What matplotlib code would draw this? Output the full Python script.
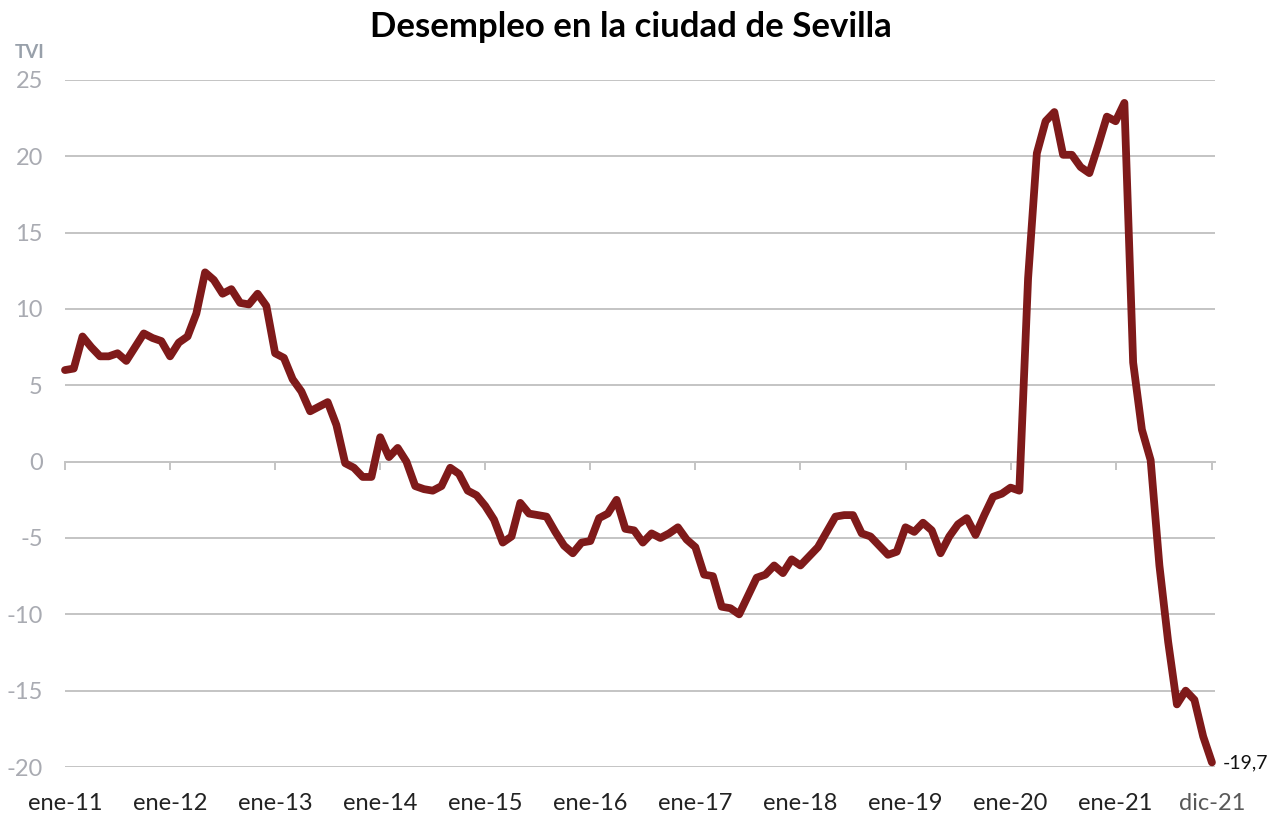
import matplotlib
matplotlib.use("Agg")
from matplotlib import pyplot as plt
import numpy as np

# Tasa de variacion interanual del paro registrado, ene-2011 .. dic-2021 (mensual)
tvi_2011 = [6.0, 6.1, 8.2, 7.5, 6.9, 6.9, 7.1, 6.6, 7.5, 8.4, 8.1, 7.9]
tvi_2012 = [6.9, 7.8, 8.2, 9.7, 12.4, 11.9, 11.0, 11.3, 10.4, 10.3, 11.0, 10.2]
tvi_2013 = [7.1, 6.8, 5.4, 4.6, 3.3, 3.6, 3.9, 2.4, -0.1, -0.4, -1.0, -1.0]
tvi_2014 = [1.6, 0.3, 0.9, 0.0, -1.6, -1.8, -1.9, -1.6, -0.4, -0.8, -1.9, -2.2]
tvi_2015 = [-2.9, -3.8, -5.3, -4.9, -2.7, -3.4, -3.5, -3.6, -4.6, -5.5, -6.0, -5.3]
tvi_2016 = [-5.2, -3.7, -3.4, -2.5, -4.4, -4.5, -5.3, -4.7, -5.0, -4.7, -4.3, -5.1]
tvi_2017 = [-5.6, -7.4, -7.5, -9.5, -9.6, -10.0, -8.8, -7.6, -7.4, -6.8, -7.3, -6.4]
tvi_2018 = [-6.8, -6.2, -5.6, -4.6, -3.6, -3.5, -3.5, -4.7, -4.9, -5.5, -6.1, -5.9]
tvi_2019 = [-4.3, -4.6, -4.0, -4.5, -6.0, -4.9, -4.1, -3.7, -4.8, -3.5, -2.3, -2.1]
tvi_2020 = [-1.7, -1.9, 12.0, 20.2, 22.3, 22.9, 20.1, 20.1, 19.3, 18.9, 20.7, 22.6]
tvi_2021 = [22.3, 23.5, 6.5, 2.1, 0.1, -6.8, -11.8, -15.9, -15.0, -15.6, -18.0, -19.7]

tick_labels = ['ene-11', 'ene-12', 'ene-13', 'ene-14', 'ene-15', 'ene-16',
               'ene-17', 'ene-18', 'ene-19', 'ene-20', 'ene-21', 'dic-21']
y_ticks = [-20, -15, -10, -5, 0, 5, 10, 15, 20, 25]

values = np.array(tvi_2011 + tvi_2012 + tvi_2013 + tvi_2014 + tvi_2015 + tvi_2016
                  + tvi_2017 + tvi_2018 + tvi_2019 + tvi_2020 + tvi_2021)
months = np.arange(len(values))

plt.rcParams['font.family'] = ['Lato', 'DejaVu Sans']
plt.rcParams['axes.unicode_minus'] = False

fig = plt.figure(figsize=(12.83, 8.18), dpi=100)
ax = fig.add_axes([65 / 1283, 51 / 818, 1150 / 1283, 687 / 818])

grid_col = '#C4C4C4'
ax.plot(months, values, color='#7F1A1A', lw=5.6, solid_joinstyle='round',
        solid_capstyle='round', zorder=3, clip_on=False)

ax.set_ylim(-20, 25)
ax.set_xlim(0, len(values) - 1 + 0.35)
ax.set_yticks(y_ticks)
ax.yaxis.grid(True, color=grid_col, lw=1.4)
ax.set_axisbelow(True)
for s in ['left', 'right', 'top']:
    ax.spines[s].set_visible(False)

# category axis crossing at 0
ax.spines['bottom'].set_position(('data', 0))
ax.spines['bottom'].set_color(grid_col)
ax.spines['bottom'].set_linewidth(1.4)
pos = list(range(0, 121, 12)) + [len(values) - 1]
ax.set_xticks(pos)
ax.tick_params(axis='x', direction='out', length=6, width=1.4, color=grid_col,
               labelbottom=False)
ax.tick_params(axis='y', length=0, pad=16, labelsize=17, labelcolor='#A9ABB2')

sec = ax.secondary_xaxis(0)
sec.set_xticks(pos)
sec.set_xticklabels(tick_labels)
sec.tick_params(length=0, pad=19, labelsize=17, labelcolor='#222222')
sec.spines['bottom'].set_visible(False)
sec.get_xticklabels()[-1].set_color('#595959')

ax.annotate('-19,7', (months[-1], values[-1]), xytext=(8, 0),
            textcoords='offset points', va='center', ha='left',
            fontsize=14, color='#111111')

fig.text(15 / 1283, 1 - 52 / 818, 'TVI', fontsize=13.5, fontweight='bold',
         color='#98A0AA', va='center', ha='left')
fig.text(631 / 1283, 1 - 27 / 818, 'Desempleo en la ciudad de Sevilla',
         fontsize=25, fontweight='bold', color='black', ha='center', va='center')

fig.savefig('out.png', dpi=100)
